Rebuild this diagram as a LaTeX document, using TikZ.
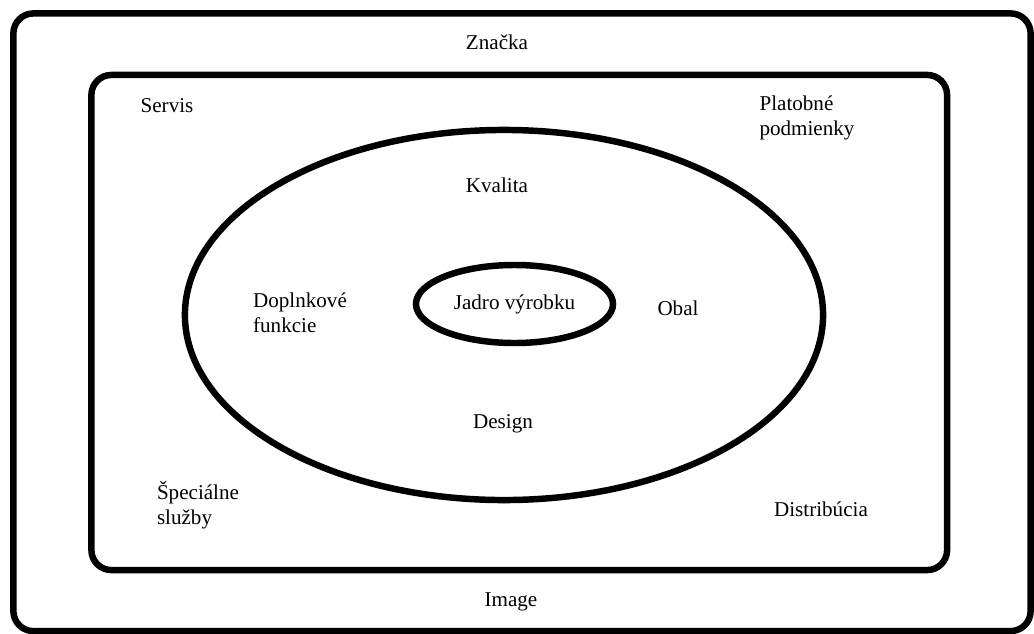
\documentclass[tikz,border=0pt]{standalone}
\usepackage{fontspec}
\setmainfont{Liberation Serif}
\usetikzlibrary{shapes.geometric}

\begin{document}
\begin{tikzpicture}[x=0.025cm,y=-0.025cm,
    framebox/.style={draw,line width=4.6pt,rounded corners=0.5cm,inner sep=0},
    ring/.style={draw,ellipse,line width=4.6pt,inner sep=0},
    lbl/.style={font=\fontsize{15}{17.5}\selectfont,align=left}]
      % \draw[help lines](0,0) grid (1034,633);
      \useasboundingbox (0,0) rectangle (1034,633);

      \draw (522,322.25) node[framebox,minimum width=25.425cm,minimum height=15.4375cm] (brand) {};
      \draw (519.25,322.5) node[framebox,minimum width=21.3875cm,minimum height=12.375cm] (offer) {};
      \draw (504,315) node[ring,minimum width=15.95cm,minimum height=9.25cm] (product) {};
      \draw (514.5,304) node[ring,lbl,minimum width=4.925cm,minimum height=1.95cm] (core) {Jadro výrobku};

      \draw (497,42) node[lbl] (znacka) {Značka};
      \draw (167,106) node[lbl] (servis) {Servis};
      \draw (807,118) node[lbl] (platba) {Platobné\\podmienky};
      \draw (497,185) node[lbl] (kvalita) {Kvalita};
      \draw (300,313) node[lbl] (doplnky) {Doplnkové\\funkcie};
      \draw (678,308) node[lbl] (obal) {Obal};
      \draw (503,424) node[lbl] (design) {Design};
      \draw (198,505) node[lbl] (sluzby) {Špeciálne\\služby};
      \draw (821,509) node[lbl] (distribucia) {Distribúcia};
      \draw (511,602) node[lbl] (image) {Image};
    \end{tikzpicture}
\end{document}
